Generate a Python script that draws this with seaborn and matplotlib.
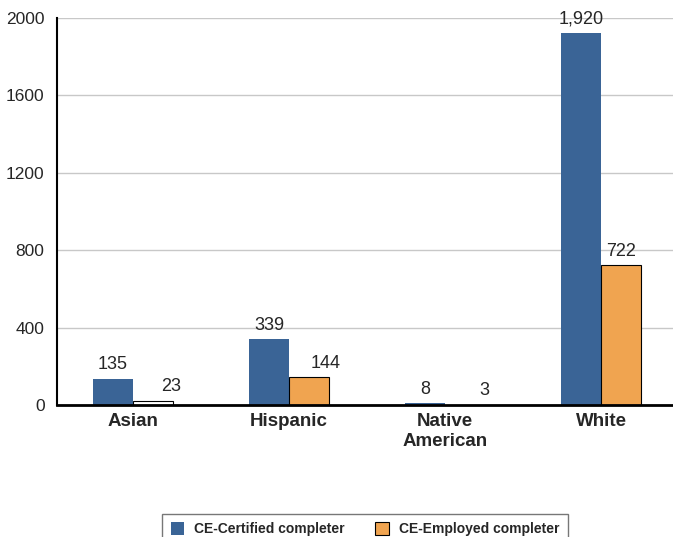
import matplotlib
matplotlib.use("Agg")
import matplotlib.pyplot as plt
import pandas as pd
import seaborn as sns

categories = ["Asian", "Hispanic", "Native\nAmerican", "White"]
certified = [135, 339, 8, 1920]
employed = [23, 144, 3, 722]
series_names = ["CE-Certified completer", "CE-Employed completer"]
y_ticks = [0, 400, 800, 1200, 1600, 2000]

# label nudges (points) for the small employed bars, as in the original
employed_label_dx = [13, 12, 14, 0]

df = pd.DataFrame({
    "group": categories * 2,
    "series": [series_names[0]] * 4 + [series_names[1]] * 4,
    "value": certified + employed,
})

sns.set_style("white")
plt.rcParams["font.family"] = ["Liberation Sans", "DejaVu Sans"]

blue = "#3A6496"
orange = "#F0A450"

fig = plt.figure(figsize=(6.73, 5.37), dpi=100)
ax = fig.add_axes([57 / 673, 1 - 405 / 537, 1 - 57 / 673, (405 - 18) / 537])

sns.barplot(data=df, x="group", y="value", hue="series", order=categories,
            hue_order=series_names, palette=[blue, orange], width=0.513,
            gap=0, saturation=1, ax=ax, legend=False)

cont_cert, cont_emp = ax.containers[0], ax.containers[1]
for p in cont_cert:
    p.set_edgecolor("none")
for i, p in enumerate(cont_emp):
    p.set_edgecolor("black")
    p.set_linewidth(0.8)
    if i == 0:
        # the Asian employed bar is drawn hollow in the source
        p.set_facecolor("white")
    if i == 2:
        p.set_facecolor("white")
        p.set_edgecolor("none")

for p, v in zip(cont_cert, certified):
    ax.annotate(f"{v:,}", (p.get_x() + p.get_width() / 2, p.get_height()),
                xytext=(0, 4), textcoords="offset points",
                ha="center", va="bottom", fontsize=13)
for p, v, dx in zip(cont_emp, employed, employed_label_dx):
    ax.annotate(f"{v:,}", (p.get_x() + p.get_width() / 2, p.get_height()),
                xytext=(dx, 4), textcoords="offset points",
                ha="center", va="bottom", fontsize=13)

ax.set_ylim(0, 2000)
ax.set_xlim(-0.487, 3.46)
ax.set_yticks(y_ticks)
ax.set_yticklabels([str(t) for t in y_ticks], fontsize=12.5)
ax.yaxis.grid(True, color="#C8C8C8", linewidth=1)
ax.set_axisbelow(True)
ax.tick_params(axis="both", length=0)
ax.tick_params(axis="y", pad=9)
ax.tick_params(axis="x", pad=6)
for lbl in ax.get_xticklabels():
    lbl.set_fontweight("bold")
    lbl.set_fontsize(13.5)
ax.set_xlabel("")
ax.set_ylabel("")

for s in ["top", "right"]:
    ax.spines[s].set_visible(False)
ax.spines["left"].set_color("black")
ax.spines["left"].set_linewidth(1.5)
ax.spines["bottom"].set_color("black")
ax.spines["bottom"].set_linewidth(2)

handles = [
    plt.Rectangle((0, 0), 1, 1, facecolor=blue, edgecolor="none"),
    plt.Rectangle((0, 0), 1, 1, facecolor=orange, edgecolor="black", linewidth=0.8),
]
leg = fig.legend(handles, series_names, loc="upper center",
                 bbox_to_anchor=(365 / 673, 1 - 507 / 537), ncol=2,
                 frameon=True, fancybox=False, handlelength=1.0, handleheight=1.0,
                 columnspacing=2.2, handletextpad=0.7, borderpad=0.6,
                 prop={"weight": "bold", "size": 10})
leg.get_frame().set_edgecolor("#555555")
leg.get_frame().set_linewidth(1)

fig.savefig("out.png", dpi=100)
